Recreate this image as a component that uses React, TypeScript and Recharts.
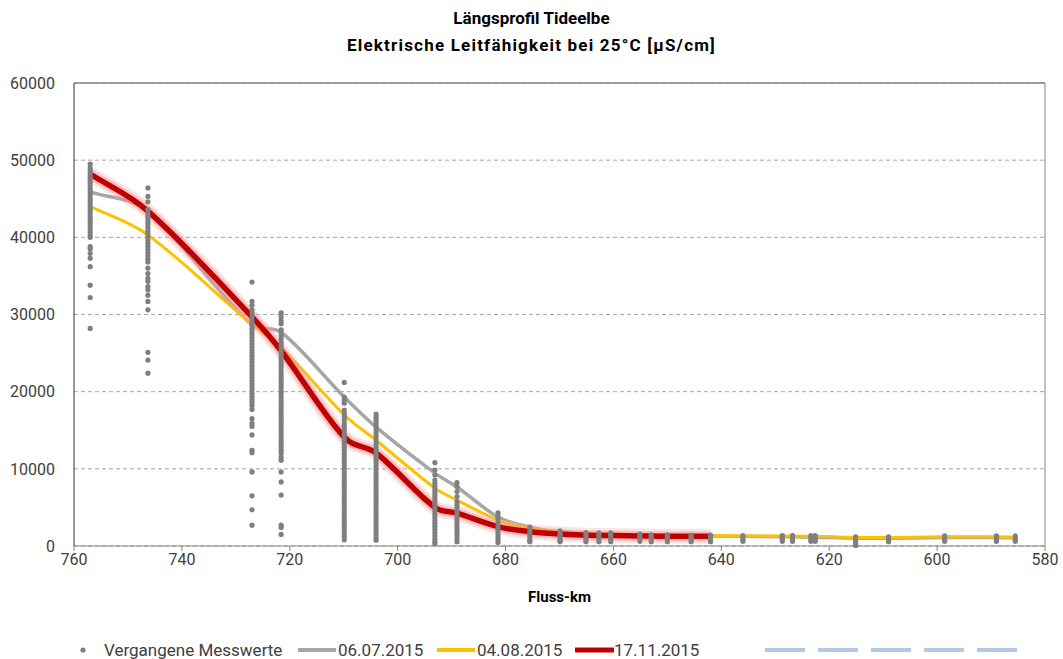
import React from "react";
import { ComposedChart, Line, Scatter, XAxis, YAxis, CartesianGrid, ReferenceLine } from "recharts";

// Fluss-km der Messstationen (Linienverläufe)
const lineKm = [757, 746.3, 727, 721.6, 709.9, 704, 693.1, 689, 681.4, 675.5, 669.9, 665.1, 662.7, 660.5, 655.1, 653, 650, 645.6, 642, 636, 628.7, 626.8, 623.4, 622.6, 615.1, 609, 598.6, 589, 585.5];

const values0607 = [45900, 43300, 28600, 27700, 19300, 15400, 9450, 7650, 3750, 2450, 1800, 1650, 1600, 1550, 1450, 1400, 1350, 1300, 1300, 1250, 1200, 1200, 1150, 1150, 1000, 1000, 1100, 1100, 1050];
const values0408 = [44000, 40300, 28700, 25700, 17000, 13700, 7500, 5950, 3350, 2300, 1850, 1650, 1600, 1550, 1450, 1400, 1400, 1350, 1350, 1300, 1300, 1300, 1250, 1250, 1100, 1100, 1200, 1200, 1150];
const values1711 = [48200, 43400, 29700, 25300, 14100, 12050, 5000, 4250, 2500, 1850, 1550, 1400, 1350, 1350, 1300, 1300, 1250, 1250, 1250];

// Vergangene Messwerte je Station
const m757 = [49500, 49000, 48700, 48300, 47900, 47500, 47100, 46700, 46300, 45900, 45500, 45100, 44700, 44300, 43900, 43500, 43100, 42700, 42300, 41900, 41500, 41100, 40700, 40300, 40000, 38800, 38500, 37900, 37300, 36200, 33800, 32200, 28200];
const m746 = [46400, 45300, 44600, 43600, 43200, 42800, 42400, 42000, 41600, 41200, 40800, 40400, 40000, 39600, 39200, 38800, 38400, 38000, 37600, 37200, 36800, 36000, 35300, 34700, 34300, 33600, 33200, 32500, 31700, 30600, 25100, 24100, 22400];
const m727 = [34200, 31700, 31200, 30600, 30200, 29800, 29400, 29000, 28600, 28200, 27800, 27400, 27000, 26600, 26200, 25800, 25400, 25000, 24600, 24200, 23800, 23400, 23000, 22600, 22200, 21800, 21400, 21000, 20600, 20200, 19800, 19400, 19000, 18600, 18200, 17700, 16500, 15900, 15500, 14400, 12400, 12100, 9600, 6500, 4700, 2700];
const m721 = [30200, 29700, 29200, 28800, 28000, 27600, 27200, 26800, 26400, 26000, 25600, 25200, 24800, 24400, 24000, 23600, 23200, 22800, 22400, 22000, 21600, 21200, 20800, 20400, 20000, 19600, 19200, 18800, 18400, 18000, 17600, 17200, 16800, 16400, 16000, 15600, 15200, 14800, 14400, 14000, 13600, 13200, 12800, 12400, 12000, 11500, 11100, 9600, 8300, 6600, 2700, 2400, 1500];
const m710 = [21200, 19300, 18900, 18500, 17600, 17200, 16800, 16400, 16000, 15600, 15200, 14800, 14400, 14000, 13600, 13200, 12800, 12400, 12000, 11600, 11200, 10800, 10400, 10000, 9600, 9200, 8800, 8400, 8000, 7600, 7200, 6800, 6400, 6000, 5600, 5200, 4800, 4400, 4000, 3600, 3200, 2800, 2400, 2000, 1600, 1200, 800];
const m704 = [17100, 16700, 16300, 15900, 15500, 15100, 14700, 14300, 13900, 13500, 13100, 12700, 12300, 11900, 11500, 11100, 10700, 10300, 9900, 9500, 9100, 8700, 8300, 7900, 7500, 7100, 6700, 6300, 5900, 5500, 5100, 4700, 4300, 3900, 3500, 3100, 2700, 2300, 1900, 1500, 1100, 750];
const m693 = [10800, 9850, 9200, 8550, 8150, 7750, 7350, 6950, 6550, 6150, 5750, 5350, 4950, 4550, 4150, 3750, 3350, 2950, 2550, 2150, 1750, 1350, 950, 550, 300];
const m689 = [8200, 7700, 7050, 6400, 5750, 5350, 4950, 4550, 4150, 3750, 3350, 2950, 2550, 2150, 1750, 1350, 950, 550];
const m681 = [4300, 3900, 3500, 3100, 2700, 2300, 1900, 1500, 1100, 700, 450];
const m675 = [2450, 2100, 1750, 1400, 1050, 700, 550];
const m670 = [1950, 1650, 1350, 1050, 750, 560];
const m665 = [1750, 1450, 1150, 850, 560];
const m663 = [1700, 1400, 1100, 800, 560];
const m660 = [1700, 1400, 1100, 800, 560];
const m655 = [1550, 1250, 950, 600];
const m653 = [1450, 1150, 850, 560];
const m650 = [1450, 1150, 850, 560];
const m646 = [1400, 1100, 800, 560];
const m642 = [1400, 1100, 800, 560];
const m636 = [1350, 1050, 800, 600];
const m629 = [1350, 1050, 800, 600];
const m627 = [1350, 1050, 800, 600];
const m623 = [1350, 1050, 800, 600];
const m622 = [1350, 1050, 800, 600];
const m615 = [1200, 900, 600, 300, 80];
const m609 = [1200, 950, 700, 550];
const m599 = [1300, 1050, 800, 600];
const m589 = [1300, 1050, 800, 600];
const m585 = [1300, 1050, 800, 600];

const pastValues = [m757, m746, m727, m721, m710, m704, m693, m689, m681, m675, m670, m665, m663, m660, m655, m653, m650, m646, m642, m636, m629, m627, m623, m622, m615, m609, m599, m589, m585];

const xTicks = [760, 740, 720, 700, 680, 660, 640, 620, 600, 580];
const yTicks = [0, 10000, 20000, 30000, 40000, 50000, 60000];

const toSeries = (vals: number[]) => vals.map((v, i) => ({ km: lineKm[i], v }));
const data0607 = toSeries(values0607);
const data0408 = toSeries(values0408);
const data1711 = toSeries(values1711);
const pastData = pastValues.flatMap((vals, i) => vals.map((v) => ({ km: lineKm[i], v })));

const FONT = "Roboto, 'Noto Sans', sans-serif";
const tickStyle = { fill: "#404040", fontSize: 16, fontFamily: FONT };

const clamp = (v: number, a: number, b: number) => Math.min(Math.max(v, Math.min(a, b)), Math.max(a, b));

// Excel-artige Glättung: Hermite mit Sehnen-Steigung, Kontrollpunkte begrenzt
function smoothCurve(context: any) {
  let pts: [number, number][] = [];
  return {
    areaStart() {},
    areaEnd() {},
    lineStart() {
      pts = [];
    },
    point(x: number, y: number) {
      pts.push([+x, +y]);
    },
    lineEnd() {
      const n = pts.length;
      if (!n) return;
      context.moveTo(pts[0][0], pts[0][1]);
      const slope = (i: number) => {
        const a = pts[Math.max(0, i - 1)];
        const b = pts[Math.min(n - 1, i + 1)];
        return (b[1] - a[1]) / (b[0] - a[0] || 1);
      };
      for (let i = 0; i < n - 1; i++) {
        const p1 = pts[i];
        const p2 = pts[i + 1];
        const dx = (p2[0] - p1[0]) / 3;
        context.bezierCurveTo(
          p1[0] + dx,
          clamp(p1[1] + slope(i) * dx, p1[1], p2[1]),
          p2[0] - dx,
          clamp(p2[1] - slope(i + 1) * dx, p1[1], p2[1]),
          p2[0],
          p2[1]
        );
      }
    },
  };
}

const Dot = (p: any) => <circle cx={p.cx} cy={p.cy} r={2.6} fill="#7f7f7f" />;

export default function App() {
  return (
    <div style={{ position: "absolute", left: 0, top: 0, width: 1063, height: 659, background: "#fff", fontFamily: FONT }}>
      <div style={{ position: "absolute", left: 0, top: 5, width: 1063, textAlign: "center", fontWeight: 700, fontSize: 17, lineHeight: "27px", color: "#000" }}>
        <div>Längsprofil Tideelbe</div>
        <div style={{ letterSpacing: 1.2 }}>Elektrische Leitfähigkeit bei 25°C [µS/cm]</div>
      </div>
      <ComposedChart width={1063} height={659} margin={{ top: 83, right: 18, left: 0, bottom: 0 }}>
        <CartesianGrid vertical={false} stroke="#a6a6a6" strokeDasharray="4 3" />
        <XAxis
          dataKey="km"
          type="number"
          domain={[580, 760]}
          reversed
          ticks={xTicks}
          height={113}
          tick={tickStyle}
          tickSize={5}
          tickMargin={3}
          axisLine={{ stroke: "#868686" }}
          tickLine={{ stroke: "#868686" }}
        />
        <YAxis
          type="number"
          domain={[0, 60000]}
          ticks={yTicks}
          width={74}
          tick={tickStyle}
          tickLine={false}
          tickSize={0}
          tickMargin={19}
          axisLine={{ stroke: "#333" }}
        />
        <ReferenceLine y={60000} stroke="#868686" strokeWidth={1.5} />
        <ReferenceLine x={580} stroke="#868686" />
        <Line data={data0607} dataKey="v" type={smoothCurve as any} stroke="#a6a6a6" strokeWidth={3.5} dot={false} isAnimationActive={false} />
        <Line data={data0408} dataKey="v" type={smoothCurve as any} stroke="#ffc000" strokeWidth={3} dot={false} isAnimationActive={false} />
        <Line data={data1711} dataKey="v" type={smoothCurve as any} stroke="#f4a6a6" strokeOpacity={0.3} strokeWidth={15} dot={false} isAnimationActive={false} />
        <Line data={data1711} dataKey="v" type={smoothCurve as any} stroke="#ee8a8a" strokeOpacity={0.4} strokeWidth={10} dot={false} isAnimationActive={false} />
        <Line data={data1711} dataKey="v" type={smoothCurve as any} stroke="#c00000" strokeWidth={5.5} dot={false} isAnimationActive={false} />
        <Scatter data={pastData} dataKey="v" shape={Dot} isAnimationActive={false} />
      </ComposedChart>
      <div style={{ position: "absolute", left: 0, top: 588, width: 1063, paddingLeft: 74, paddingRight: 18, boxSizing: "border-box", textAlign: "center", fontWeight: 700, fontSize: 15, color: "#000" }}>
        Fluss-km
      </div>
      <svg style={{ position: "absolute", left: 0, top: 635 }} width={1063} height={24}>
        <g fontFamily={FONT} fontSize={17} fill="#404040">
          <circle cx={83} cy={15} r={2.6} fill="#7f7f7f" />
          <text x={104} y={21}>Vergangene Messwerte</text>
          <line x1={298} x2={336} y1={15} y2={15} stroke="#a6a6a6" strokeWidth={4} />
          <text x={338} y={21}>06.07.2015</text>
          <line x1={437} x2={475} y1={15} y2={15} stroke="#ffc000" strokeWidth={4} />
          <text x={477} y={21}>04.08.2015</text>
          <line x1={575} x2={614} y1={15} y2={15} stroke="#c00000" strokeWidth={5} />
          <text x={614} y={21}>17.11.2015</text>
          <line x1={765} x2={1017} y1={15} y2={15} stroke="#b4c7e7" strokeWidth={4} strokeDasharray="40 13" />
        </g>
      </svg>
    </div>
  );
}
